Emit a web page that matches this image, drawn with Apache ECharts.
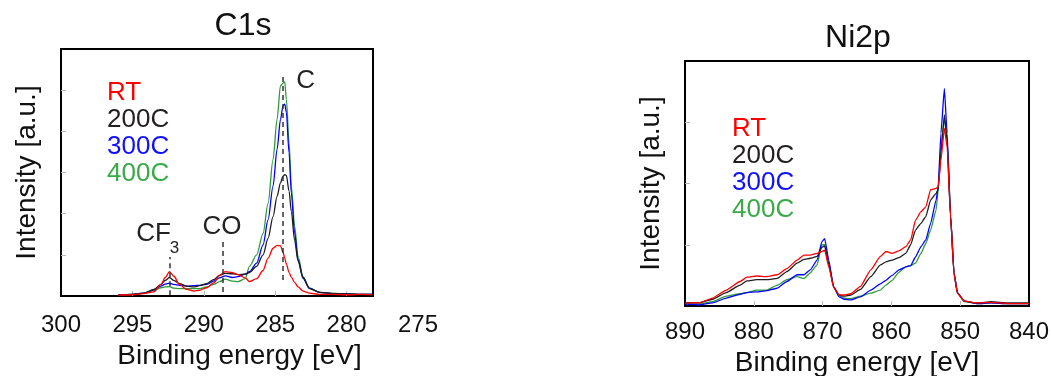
<!DOCTYPE html>
<html>
<head>
<meta charset="utf-8">
<script src="https://cdn.jsdelivr.net/npm/echarts@6.0.0/dist/echarts.min.js"></script>
<style>
  html, body { margin: 0; padding: 0; background: #fff; }
  #chart { width: 1051px; height: 376px; }
</style>
</head>
<body>
<div id="chart"></div>
<script>
// C1s spectra (binding energy, eV)
const c1sEnergy = [296.0, 295.0, 294.2, 293.5, 293.0, 292.7, 292.4, 292.1, 291.7, 291.2,
  290.7, 290.3, 289.8, 289.3, 288.9, 288.5, 288.0, 287.6, 287.1, 286.8,
  286.3, 285.85, 285.5, 285.15, 284.87, 284.63, 284.45, 284.33, 284.22, 284.03,
  283.87, 283.64, 283.4, 283.05, 282.6, 281.9, 281.0, 280.0, 279.0, 278.2];
const c1sRT = [0.02, 0.03, 0.06, 0.10, 0.28, 0.45, 0.59, 0.48, 0.28, 0.16,
  0.12, 0.14, 0.20, 0.32, 0.50, 0.59, 0.57, 0.52, 0.44, 0.35,
  0.42, 0.62, 0.92, 1.16, 1.23, 1.22, 1.06, 0.92, 0.78, 0.57,
  0.46, 0.33, 0.22, 0.12, 0.07, 0.04, 0.04, 0.03, 0.04, 0.03];
const c1s200 = [0.02, 0.04, 0.07, 0.16, 0.28, 0.38, 0.45, 0.38, 0.30, 0.24,
  0.22, 0.25, 0.30, 0.40, 0.50, 0.55, 0.54, 0.52, 0.53, 0.57,
  0.72, 1.00, 1.40, 1.93, 2.42, 2.75, 2.91, 2.95, 2.93, 2.55,
  2.05, 1.35, 0.85, 0.45, 0.18, 0.09, 0.06, 0.05, 0.04, 0.04];
const c1s300 = [0.02, 0.04, 0.07, 0.15, 0.24, 0.29, 0.31, 0.28, 0.26, 0.24,
  0.25, 0.26, 0.28, 0.36, 0.44, 0.49, 0.45, 0.47, 0.53, 0.59,
  0.80, 1.24, 1.85, 2.67, 3.56, 4.29, 4.62, 4.66, 4.46, 3.48,
  2.50, 1.53, 0.88, 0.43, 0.19, 0.09, 0.06, 0.05, 0.04, 0.04];
const c1s400 = [0.02, 0.04, 0.07, 0.13, 0.20, 0.22, 0.23, 0.19, 0.18, 0.18,
  0.18, 0.18, 0.22, 0.28, 0.35, 0.41, 0.36, 0.35, 0.42, 0.72,
  1.00, 1.52, 2.25, 3.32, 4.29, 5.11, 5.17, 5.20, 4.78, 3.72,
  2.67, 1.69, 0.96, 0.47, 0.19, 0.09, 0.07, 0.05, 0.04, 0.04];

// Ni2p spectra
const niEnergy = [890, 888, 886, 884, 882, 881, 879.6, 878.1, 876.6, 875.2,
  873.7, 872.7, 871.8, 870.8, 870.1, 869.7, 869.1, 868.4, 867.6, 866.9,
  865.9, 864.5, 863, 861.6, 860.8, 859.9, 858.9, 857.9, 857.2, 856.5,
  855.7, 855, 854.3, 853.5, 853.2, 852.8, 852.3, 851.9, 851.4, 850.9,
  850.4, 849.4, 847.5, 845.5, 843, 840];
const niRT = [0.05, 0.05, 0.13, 0.26, 0.40, 0.47, 0.49, 0.48, 0.51, 0.61,
  0.75, 0.83, 0.83, 0.86, 0.89, 0.91, 0.64, 0.31, 0.18, 0.18,
  0.20, 0.32, 0.59, 0.81, 0.89, 0.86, 0.90, 0.97, 1.08, 1.40,
  1.54, 1.62, 1.90, 1.92, 1.95, 2.38, 2.90, 2.60, 1.46, 0.53,
  0.21, 0.08, 0.05, 0.06, 0.04, 0.04];
const ni200 = [0.05, 0.05, 0.11, 0.22, 0.34, 0.41, 0.43, 0.43, 0.45, 0.56,
  0.70, 0.76, 0.78, 0.81, 0.96, 0.98, 0.68, 0.31, 0.18, 0.16,
  0.18, 0.27, 0.48, 0.67, 0.72, 0.75, 0.79, 0.86, 1.00, 1.24,
  1.35, 1.46, 1.73, 1.84, 1.90, 2.49, 3.12, 2.70, 1.46, 0.53,
  0.21, 0.08, 0.05, 0.07, 0.05, 0.05];
const ni300 = [0.03, 0.02, 0.05, 0.13, 0.19, 0.22, 0.23, 0.25, 0.29, 0.40,
  0.51, 0.51, 0.59, 0.75, 1.05, 1.10, 0.75, 0.31, 0.15, 0.11,
  0.10, 0.15, 0.26, 0.36, 0.42, 0.50, 0.59, 0.64, 0.66, 0.80,
  0.97, 1.08, 1.35, 1.73, 1.95, 2.82, 3.55, 2.82, 1.50, 0.55,
  0.22, 0.08, 0.04, 0.05, 0.04, 0.04];
const ni400 = [0.04, 0.03, 0.07, 0.16, 0.20, 0.22, 0.26, 0.26, 0.34, 0.43,
  0.48, 0.45, 0.54, 0.67, 1.00, 1.00, 0.68, 0.31, 0.17, 0.13,
  0.12, 0.16, 0.21, 0.26, 0.34, 0.42, 0.55, 0.64, 0.66, 0.70,
  0.86, 1.02, 1.24, 1.57, 1.90, 2.60, 3.06, 2.70, 1.46, 0.53,
  0.21, 0.07, 0.04, 0.05, 0.04, 0.04];

const sampleNames = ['RT', '200C', '300C', '400C'];
const c1sTicks = [300, 295, 290, 285, 280, 275];
const niTicks = [890, 880, 870, 860, 850, 840];

// peak guides in the C1s panel: [energy, bottom, top]
const c1sGuides = [[292.36, 0.02, 0.95], [288.64, 0.1, 1.32], [284.45, 0.39, 5.39]];
// peak labels: [text, energy, intensity, font size]
const c1sNotes = [['C', 282.87, 5.22, 26], ['CO', 288.73, 1.68, 26], ['CF', 293.51, 1.51, 26], ['3', 292.05, 1.17, 17]];

const font = '"Liberation Sans", Arial, sans-serif';
const lineColor = { 'RT': '#ff0000', '200C': '#1e1e1e', '300C': '#0000ff', '400C': '#2f9a3a' };
const textColor = { 'RT': '#ff0000', '200C': '#231f20', '300C': '#1010ff', '400C': '#3aaa48' };

const chart = echarts.init(document.getElementById('chart'));

function pairs(energy, vals) {
  return energy.map((e, i) => [e, vals[i]]);
}

function spectra(energy, byName, idx, smooth) {
  return ['400C', '300C', '200C', 'RT'].map(name => ({
    name: name,
    type: 'line',
    xAxisIndex: idx,
    yAxisIndex: idx,
    data: pairs(energy, byName[name]),
    showSymbol: false,
    smooth: smooth,
    smoothMonotone: 'x',
    lineStyle: { color: lineColor[name], width: 1.3 },
    itemStyle: { color: lineColor[name] },
    silent: true,
  }));
}

function xAxisFor(idx, min, max, labels, gap, margin) {
  return {
    gridIndex: idx,
    type: 'value',
    min: min,
    max: max,
    inverse: true,
    name: 'Binding energy [eV]',
    nameLocation: 'middle',
    nameGap: gap,
    nameTextStyle: { fontFamily: font, fontSize: 28, color: '#111' },
    axisLine: { show: false },
    axisTick: { show: true, inside: true, length: 5, lineStyle: { color: '#b5b5b5' },
      customValues: labels.slice(1, -1) },
    axisLabel: { customValues: labels, fontFamily: font, fontSize: 24, color: '#111', margin: margin },
    splitLine: { show: false },
  };
}

function yAxisFor(idx, max) {
  const ticks = [];
  for (let v = 1; v < max; v++) ticks.push(v);
  return {
    gridIndex: idx,
    type: 'value',
    min: 0,
    max: max,
    interval: 1,
    name: 'Intensity [a.u.]',
    nameLocation: 'middle',
    nameGap: 20,
    nameTextStyle: { fontFamily: font, fontSize: 28, color: '#111' },
    axisLine: { show: false },
    axisTick: { show: true, inside: true, length: 5, lineStyle: { color: '#b5b5b5' }, customValues: ticks },
    axisLabel: { show: false },
    splitLine: { show: false },
  };
}

function legendFor(left, top) {
  return {
    left: left,
    top: top,
    orient: 'vertical',
    icon: 'none',
    itemWidth: 0,
    itemHeight: 0,
    itemGap: 0,
    padding: 0,
    selectedMode: false,
    data: sampleNames.map(n => ({ name: n, textStyle: { color: textColor[n] } })),
    textStyle: { fontFamily: font, fontSize: 26, lineHeight: 27 },
  };
}

const c1sByName = { 'RT': c1sRT, '200C': c1s200, '300C': c1s300, '400C': c1s400 };
const niByName = { 'RT': niRT, '200C': ni200, '300C': ni300, '400C': ni400 };

const series = spectra(c1sEnergy, c1sByName, 0, 0.3).concat(spectra(niEnergy, niByName, 1, 0.15));

series.push({
  name: 'guides',
  type: 'line',
  xAxisIndex: 0,
  yAxisIndex: 0,
  data: [],
  silent: true,
  markLine: {
    silent: true,
    symbol: ['none', 'none'],
    label: { show: false },
    lineStyle: { color: '#333', type: [5, 4], width: 1.5 },
    data: c1sGuides.map(g => [{ coord: [g[0], g[1]] }, { coord: [g[0], g[2]] }]),
  },
  markPoint: {
    silent: true,
    symbol: 'circle',
    symbolSize: 0,
    data: c1sNotes.map(n => ({
      name: n[0],
      coord: [n[1], n[2]],
      label: { show: true, position: 'inside', formatter: '{b}', fontFamily: font, fontSize: n[3], color: '#222' },
    })),
  },
});

chart.setOption({
  animation: false,
  title: [
    { text: 'C1s', left: 243, top: 10, textAlign: 'center', padding: 0,
      textStyle: { fontFamily: font, fontSize: 32, fontWeight: 'normal', color: '#111' } },
    { text: 'Ni2p', left: 858, top: 22, textAlign: 'center', padding: 0,
      textStyle: { fontFamily: font, fontSize: 32, fontWeight: 'normal', color: '#111' } },
  ],
  legend: [legendFor(102, 79), legendFor(727, 115)],
  grid: [
    { left: 61, top: 49, width: 357, height: 247, show: false, outerBoundsMode: 'none' },
    { left: 685, top: 61, width: 344, height: 245, show: true, borderColor: '#000', borderWidth: 2, outerBoundsMode: 'none' },
    { left: 61, top: 49, width: 312, height: 247, show: true, borderColor: '#000', borderWidth: 2, outerBoundsMode: 'none' },
  ],
  xAxis: [
    xAxisFor(0, 275, 300, c1sTicks, 46, 17),
    xAxisFor(1, 840, 890, niTicks, 43, 14),
    { gridIndex: 2, type: 'value', show: false },
  ],
  yAxis: [
    yAxisFor(0, 6),
    yAxisFor(1, 4),
    { gridIndex: 2, type: 'value', show: false },
  ],
  series: series,
});
</script>
</body>
</html>
